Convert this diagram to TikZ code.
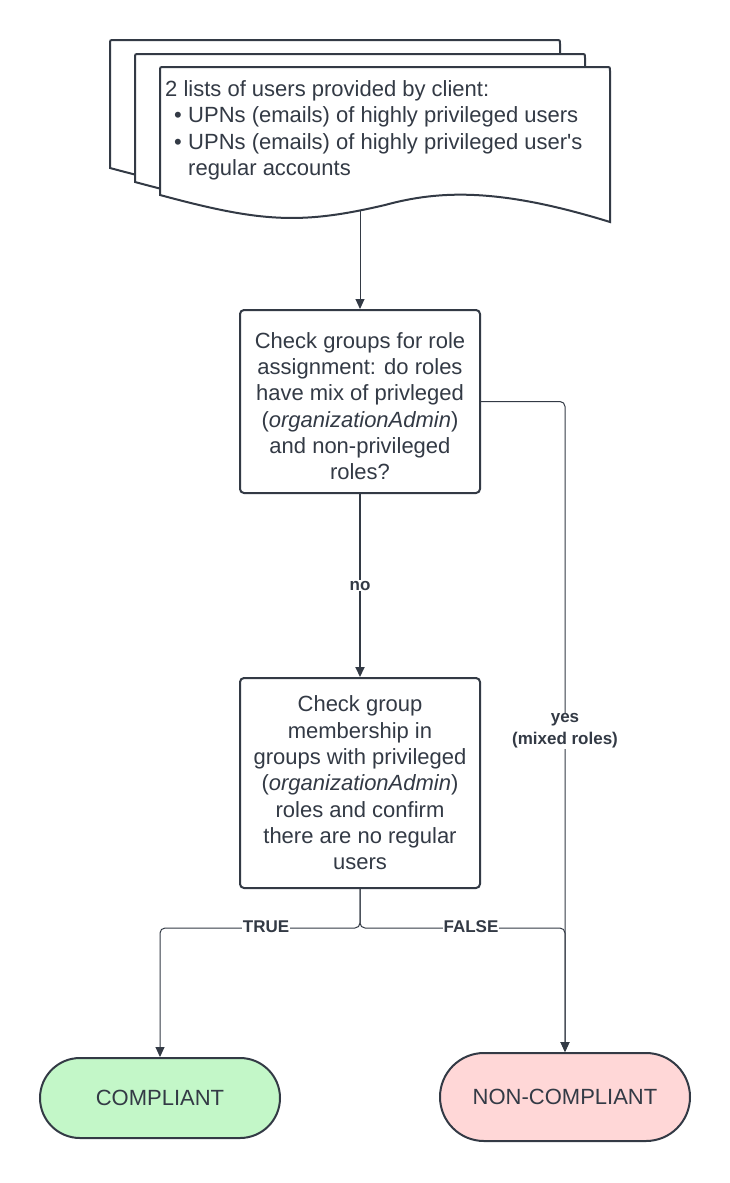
\documentclass[tikz,border=0pt]{standalone}
\usepackage{fontspec}
\setmainfont{Liberation Sans}[Ligatures=TeXOff]
\usetikzlibrary{arrows.meta}
\definecolor{ink}{HTML}{333A45}
\definecolor{okfill}{HTML}{C3F7C8}
\definecolor{nokfill}{HTML}{FFD7D7}
\begin{document}
\begin{tikzpicture}[x=1pt,y=-1pt,
  box/.style={draw=ink, line width=2pt, rounded corners=4pt, fill=white, minimum width=240pt, align=center, text=ink, font=\fontsize{22}{26.3}\selectfont, inner sep=0pt},
  term/.style={draw=ink, line width=2pt, text=ink, font=\fontsize{22}{26}\selectfont},
  conn/.style={draw=ink, line width=1pt, rounded corners=5pt},
  arrowend/.style={-{Triangle[length=10pt,width=9pt]}},
  lbl/.style={fill=white, text=ink, font=\bfseries\fontsize{17}{22}\selectfont, inner sep=1pt, align=center},
  docline/.style={anchor=base west, text=ink, font=\fontsize{22}{26}\selectfont, inner sep=0pt},
  docshape/.style={draw=ink, line width=2pt, fill=white}]
\useasboundingbox (0,0) rectangle (729,1183);
% stacked documents
\foreach \dx/\dy in {-50/-27, -25/-13, 0/0}{
  \begin{scope}[shift={(\dx,\dy)}]
    \draw[docshape] (160,195) -- (160,71) .. controls (160,67) .. (164,67) -- (606,67)
      .. controls (610,67) .. (610,71) -- (610,222)
      .. controls (500,188) and (440,190) .. (385,205)
      .. controls (300,225) and (260,222) .. (160,195) -- cycle;
  \end{scope}
}
\node[docline] (d1) at (165,96) {2 lists of users provided by client:};
\node[docline] (d2) at (165,122.5) {\makebox[23pt][l]{\hspace{9pt}•}UPNs (emails) of highly privileged users};
\node[docline] (d3) at (165,149) {\makebox[23pt][l]{\hspace{9pt}•}UPNs (emails) of highly privileged user's};
\node[docline] (d4) at (188,175.5) {regular accounts};
\coordinate (dstart) at (360,211);
% process boxes
\node[box, minimum height=183pt] (b1) at (360,401.5) {\rule{0pt}{25pt}Check groups for role\\assignment: do roles\\have mix of privleged\\(\textit{organizationAdmin})\\and non-privileged\\roles?};
\node[box, minimum height=210pt] (b2) at (360,783) {Check group\\membership in\\groups with privileged\\(\textit{organizationAdmin})\\roles and confirm\\there are no regular\\users};
% terminals
\node[term, fill=okfill, rounded corners=40pt, minimum width=240pt, minimum height=80pt] (comp) at (160,1098) {COMPLIANT};
\node[term, fill=nokfill, rounded corners=44pt, minimum width=250pt, minimum height=88pt] (nc) at (565,1097) {NON-COMPLIANT};
% connectors
\draw[conn, arrowend] (dstart) -- (b1.north);
\draw[draw=ink, line width=2pt, arrowend] (b1.south) -- node[lbl] (nolbl) {no} (b2.north);
\draw[conn, arrowend] (b1.east) -| (nc.north);
\node[lbl] (yeslbl) at (565,731) {yes\\(mixed roles)};
\coordinate (j) at (360,928);
\draw[conn, arrowend] (b2.south) -- (j) -| (comp.north);
\draw[conn, arrowend] (b2.south) -- (j) -| (nc.north);
\node[lbl] (truelbl) at (266,927) {TRUE};
\node[lbl] (falselbl) at (471,927) {FALSE};
\end{tikzpicture}
\end{document}
